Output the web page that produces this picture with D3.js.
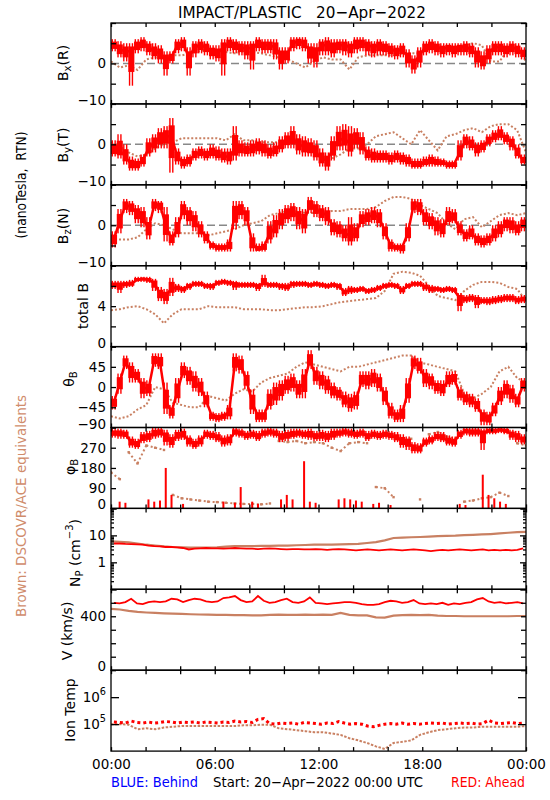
<!DOCTYPE html>
<html><head><meta charset="utf-8"><title>IMPACT/PLASTIC 20-Apr-2022</title>
<script src="https://cdn.jsdelivr.net/npm/d3@7/dist/d3.min.js"></script>
<style>
html,body{margin:0;padding:0;background:#fff;}
svg{display:block;}
text{font-family:"DejaVu Sans",Verdana,sans-serif;}
</style></head><body>
<svg id="chart" width="550" height="800"></svg>
<script>
// ================= DATA =================
const hourTicks = [0, 6, 12, 18, 24];
const hourLabels = ["00:00", "06:00", "12:00", "18:00", "00:00"];

// Bx (R), nT  — red: 20-min bins (mid / low / high), brown: 30-min samples
const bxRedMid = [4.5,3.5,3, 3,4.5,5, 4,3,2.5, 1,1.5,4.5, 5,1.5,4, 4.5,4,3, 2.5,4,5, 4.5,4,3.5, 4,5,4.5, 4.5,4,2, 2,5,5.5, 5,3,2.5, 4.5,4.5,4, 4.5,4.5,4, 5,5,4.5, 4,4.5,4, 3.5,3,3.5, 1.5,0,2, 4,4.5,4, 3.5,4,3.5, 4,4,3.5, 2,0.5,2.5, 4,4,3.5, 4,3.5,2.5];
const bxRedLo  = [3,1.5,0.5, -5.5,2.5,3, 2,1,0, -3,0,2.5, 3,-3,1.5, 2.5,2,1, 0.5,-3,3, 2.5,2,1, -1.5,3,2.5, 2.5,1,-1.5, 0,3,3.5, 3,0,-1, 2,2,1.5, 2.5,2,1.5, 2.5,3,2, 1.5,2,2, 1.5,1,1.5, -1,-2.5,-1, 2,2.5,2, 1.5,2,1.5, 2,2,1.5, -1,-1.5,0, 2,2,1.5, 2,1.5,1];
const bxRedHi  = [6,5.5,5, 5,6,6.5, 5.5,5,4.5, 3,3,6, 6.5,4,5.5, 6,5.5,4.5, 4.5,6,6.5, 6,5.5,5.5, 5.5,6.5,6, 6,6,4, 4,6.5,6.5, 6.5,5,5, 6,6.5,6, 6,6,5.5, 6.5,6.5,6, 5.5,6,5.5, 5,4.5,5, 3.5,2,4, 5.5,6,5.5, 5,5,5, 5,5.5,5, 4,3,4.5, 5.5,5.5,5, 5.5,5,4];
const bxBrown  = [0.5,-1,-0.5,-1.6,1,1.5,1.5,2, 2,2.5,3,3.5,3,2.8,2.5,3, 2.8,2.5,2,1.5,1,0,-1,0.5, 1.5,1,1,-1.5,1.5,2,2,2, 2,2.5,2.5,2.5,3.5,4,4,4, 4.5,5,4.5,0.5,0.5,3.5,4,0.5];

// By (T), nT
const byRedMid = [-1.5,-1.5,-3, -5,-5,-4, -1,0.5,1.5, 2,2,-3, -4.5,-4,-2.5, -2,-2.5,-2, -2.5,-3,-3, -1,-1,-1.5, -1,-0.5,-1, -2,-1.5,0, 1,1.5,0, -0.5,-1,-2, -3.5,-4,-1, 1,1.5,0, 1.5,0,-2.5, -3,-3,-3, -3.5,-3,-3.5, -4,-5,-5, -4.5,-4,-4.5, -4.5,-5,-5, -2,1,0, -1,-0.5,1, 2,2.5,1.5, 0.5,-2,-4];
const byRedLo  = [-3,-3.5,-5, -6.5,-6.5,-5.5, -3,-2,-1, -1,-7,-5, -6,-5.5,-4, -3.5,-4,-3.5, -4,-4.5,-5, -4,-3,-3, -3,-2.5,-3, -3.5,-3,-2, -1,-1,-2.5, -3,-3,-4, -5.5,-6.5,-4, -1.5,-1.5,-3, -1,-2.5,-4, -4.5,-4.5,-4.5, -5,-4.5,-5, -5.5,-6,-6, -5.5,-5.5,-5.5, -5.5,-6,-6, -4,-1,-1.5, -3,-2,-0.5, 0.5,1,0, -1.5,-3.5,-5];
const byRedHi  = [1,2.5,0, -3,-3.5,-2.5, 1.5,2.5,4, 4.5,6.5,-1, -3,-2.5,-1, -0.5,-1,0, -0.5,-1,-1, 4.5,1,0.5, 1,1.5,1, 0,0.5,2, 3,4.5,2.5, 2,1.5,1, -1,-2,2, 4.5,5,4.5, 4,3,-0.5, -1,-1.5,-1.5, -2,-1.5,-2, -2.5,-3.5,-3.5, -3,-2.5,-3, -3.5,-4,-4, 1,2.5,2, 0.5,1,2.5, 3.5,4.5,3, 2,0,-2.5];
const byBrown  = [0.5,-0.5,-2,-3,-2.5,-1,0,0.5, 1.5,1.5,1.5,1.5,1.5,1,2.5,1, 1,0.5,0.5,0.5,0.5,0,-1,-2, -3,-3.5,-2.5,-1,-1,0,2,2.5, 3,1.5,0,3.5,1,-1.5,2,2.5, 3.5,4,3,4.5,5,5,3.5,-2];

// Bz (N), nT
const bzRedMid = [-3.5,1,5, 4.5,3,2, -1,5,5, 0,-3.5,-1, 4,2.5,1, -1,-3,-5, -5.5,-5.5,-5, 3,4,2.5, -4.5,-6,-5.5, -2,-0.5,1.5, 3,3.5,2, 1,5,4, 3,2.5,-0.5, -1,-2,-2.5, -2,1.5,2, 2.5,2,-1.5, -5,-5.5,-5.5, -2,5,4.5, 2,1,0, -1,2,2, -1,-2.5,-2, -3.5,-4,-3.5, -2,-1,0.5, 0,-1,0.5];
const bzRedLo  = [-5.5,-2,3, 2.5,0.5,-0.5, -3.5,3.5,3, -4,-5,-3, 1.5,0,-1.5, -3,-4.5,-6, -6.5,-6.5,-6.5, -1,1.5,0, -6.5,-6.5,-6.5, -4.5,-3,-1, 0.5,1,-1, -2,3,2, 1,0,-2.5, -3,-4,-5, -4,-0.5,0, 0.5,-0.5,-3.5, -6.5,-6.5,-7, -4,3,2.5, 0,-1,-2.5, -3,0,0.5, -2.5,-4,-3.5, -5,-5.5,-5, -4,-3,-1.5, -2,-2.5,-1.5];
const bzRedHi  = [-1.5,4,6.5, 6,5,4.5, 2,6.5,6, 4.5,-1.5,2, 6,4.5,3.5, 1,-1.5,-4, -4.5,-4.5,-3.5, 6,6,4.5, -2,-4.5,-4, 1,2.5,4, 5,5.5,4.5, 4,7,6, 5,4.5,1.5, 1,0,2, 0.5,3.5,4, 4.5,4,0.5, -3.5,-4.5,-4.5, 0.5,6.5,6.5, 4,3,2, 1.5,4.5,4, 1,-1,0, -2,-2.5,-2, 0,1,2, 2,1,2];
const bzBrown  = [-3.5,-3.5,-3.5,-3,-1,0.5,0,-1, -2,-2,-2,-2.5,-2,-1.5,-1,0, 0.5,1,2.5,3,3.5,3.5,3,3, 3,3.5,3.5,4,4,4,4.5,6, 7,7,6.5,5,4,3,0.5,-1, 1.5,2,-0.5,1,2.5,3,2.5,3];

// total B, nT
const btRedMid = [6.1,6.1,6.2, 6.2,6.6,6.7, 6.6,6.3,5.2, 5.0,5.8,5.8, 5.7,6.0,6.2, 6.2,6.0,6.0, 6.3,6.4,6.3, 6.2,6.1,6.1, 6.1,6.0,6.3, 6.1,6.1,6.0, 5.9,6.2,6.2, 6.2,6.1,6.2, 6.1,6.0,6.1, 6.0,5.4,5.6, 5.6,5.7,5.5, 5.6,5.8,6.0, 6.1,6.0,5.6, 6.0,6.2,6.2, 5.9,5.7,5.7, 5.6,5.7,5.6, 4.8,4.7,4.8, 4.6,4.5,4.5, 4.6,4.7,4.8, 4.8,4.6,4.7];
const btRedLo  = [5.7,5.3,5.8, 5.9,6.4,6.4, 6.3,5.5,4.5, 4.2,5.0,5.4, 5.3,5.6,5.9, 5.9,5.7,5.6, 6.0,6.1,6.0, 5.6,5.8,5.8, 5.8,5.5,5.9, 5.8,5.8,5.6, 5.5,5.8,5.9, 5.9,5.8,5.9, 5.8,5.7,5.8, 5.6,5.0,5.2, 5.3,5.4,5.2, 5.3,5.5,5.7, 5.8,5.7,5.2, 5.7,5.9,5.9, 5.5,5.3,5.4, 5.3,5.4,5.3, 3.5,4.3,4.4, 3.8,4.2,4.1, 4.2,4.3,4.4, 4.4,4.2,4.3];
const btRedHi  = [6.5,6.5,6.5, 6.6,6.9,6.9, 6.9,6.7,5.9, 5.7,6.8,6.2, 6.0,6.3,6.5, 6.5,6.3,6.3, 6.6,6.7,6.6, 6.5,6.4,6.4, 6.4,6.3,7.1, 6.4,6.4,6.3, 6.3,6.5,6.5, 6.5,6.4,6.5, 6.4,6.3,6.4, 6.3,5.8,6.0, 5.9,6.0,5.8, 5.9,6.1,6.3, 6.4,6.3,6.0, 6.3,6.5,6.5, 6.3,6.1,6.0, 5.9,6.0,5.9, 5.3,5.1,5.2, 5.1,4.9,4.9, 5.0,5.1,5.2, 5.2,5.0,5.1];
const btBrown  = [3.6,3.7,3.9,4.0,3.7,3.2,2.3,3.2, 3.7,3.7,3.7,4.0,3.9,3.9,3.9,3.7, 3.7,3.7,3.6,3.6,3.7,3.8,3.9,3.9, 4.0,4.2,4.4,4.5,4.6,4.7,4.8,5.5, 7.2,7.4,7.3,7.0,6.0,5.0,4.8,4.6, 5.5,6.1,6.4,6.4,6.3,5.9,5.7,4.5];

// theta_B, degrees
const thRedMid = [-35,10,55, 35,25,0, -5,60,55, -30,-55,-10, 35,25,10, 0,-30,-65, -68,-65,-55, 55,50,15, -35,-65,-65, -30,-15,-5, 5,10,-5, 10,60,25, 15,5,-10, -15,-30,-35, -30,15,15, 20,10,-20, -55,-65,-60, -10,55,45, 20,15,0, -5,15,20, -15,-25,-30, -40,-65,-70, -50,-20,-5, -15,-30,5];
const thRedLo  = [-50,-15,40, 10,10,-25, -20,45,40, -60,-70,-35, 20,5,-10, -20,-45,-75, -78,-75,-72, 35,30,-5, -60,-78,-78, -50,-40,-30, -15,-10,-25, -25,40,5, -5,-15,-25, -30,-45,-55, -50,0,-5, 0,-10,-40, -70,-78,-78, -35,40,30, 0,-5,-15, -20,0,5, -30,-40,-45, -55,-85,-85, -65,-40,-25, -35,-45,-10];
const thRedHi  = [-20,30,70, 55,40,20, 15,75,75, 10,-40,20, 55,45,35, 20,-10,-55, -58,-55,-40, 75,70,35, -5,-50,-50, -5,10,15, 25,30,15, 40,82,45, 35,25,10, 0,-10,-15, -10,35,35, 40,30,0, -35,-50,-40, 20,70,65, 40,30,15, 15,35,35, 0,-10,-15, -25,-50,-55, -35,0,15, 5,-15,20];
const thBrown  = [-65,-70,-65,-50,-40,0,-5,-35, -40,-45,-45,-20,-25,-30,-15,-5, -10,10,20,25,30,45,55,50, 45,40,35,45,45,50,55,60, 65,70,70,55,50,45,40,35, -15,-25,-15,0,35,45,20,10];

// phi_B, degrees (main cluster near the top, wrapped points near 0)
const phRedMid = [335,335,330, 295,285,315, 320,335,340, 320,300,325, 330,300,285, 300,330,325, 315,300,305, 340,335,325, 330,320,335, 340,335,320, 325,330,335, 330,330,320, 325,320,330, 335,340,335, 330,335,320, 330,325,330, 325,315,300, 295,270,265, 295,305,320, 315,300,295, 330,345,340, 340,335,345, 345,350,345, 330,320,305];
const phRedLo  = [315,310,310, 270,265,290, 295,310,315, 280,270,300, 305,275,265, 275,310,305, 295,275,280, 320,315,305, 310,300,315, 320,315,295, 300,310,315, 310,305,300, 300,295,305, 315,320,315, 310,315,300, 310,305,310, 305,295,270, 260,245,245, 275,285,300, 295,280,275, 310,325,320, 320,260,330, 330,335,330, 305,295,285];
const phRedHi  = [355,355,350, 320,310,340, 345,360,360, 350,330,350, 355,325,310, 325,350,345, 340,325,330, 360,355,345, 350,345,355, 360,355,345, 350,355,355, 350,355,345, 350,345,355, 355,360,355, 350,355,345, 350,345,350, 345,340,330, 320,295,290, 315,325,340, 340,325,320, 350,360,360, 360,355,360, 360,360,360, 350,345,330];
const phRedWrap = [0,30,25, 0,0,0, 40,30,35, 180,60,0, 20,0,0, 0,0,0, 0,30,0, 25,95,0, 30,20,0, 0,0,40, 60,40,0, 210,30,25, 0,0,0, 40,45,40, 35,30,0, 20,25,0, 15,0,0, 0,0,0, 0,0,0, 0,0,0, 20,15,0, 0,150,60, 45,30,20, 0,0,0];
const phBrown  = [160,130,250,200,280,270,260,60, 45,40,35,30,28,25,22,20, 20,18,22,300,295,300,290,295, 290,270,255,290,295,290,95,90, 50,300,310,40,330,340,320,310, 30,35,45,50,70,55,290,280];

// Np, cm^-3
const npRed   = [5.0,5.0,4.8, 4.7,4.6,4.5, 4.2,4.0,3.9, 3.7,3.7,3.6, 3.4,3.0,3.2, 3.3,3.4,3.3, 3.3,3.2,3.3, 3.4,3.3,3.2, 3.2,3.1,3.2, 3.3,3.2,3.1, 3.0,3.1,3.1, 3.0,3.0,3.1, 3.0,2.9,3.0, 3.1,3.0,2.9, 2.8,2.9,3.0, 2.9,2.8,2.9, 3.0,2.9,2.8, 2.9,3.0,2.9, 2.8,2.6,2.8, 2.9,2.8,2.9, 3.0,2.9,2.8, 2.9,3.0,2.8, 2.9,2.8,2.9, 2.8,2.9,3.3];
const npBrown = [6.0,5.8,5.5,5.0,4.5,4.2,3.9,3.7, 3.6,3.5,3.5,3.5,3.6,3.8,4.0,4.0, 4.0,4.1,4.1,4.2,4.2,4.3,4.4,4.5, 4.5,4.5,4.6,4.7,4.8,5.2,5.6,6.5, 8.0,8.3,8.5,8.7,9.0,9.4,9.6,9.8, 10.2,10.5,10.8,11.2,11.8,12.5,13.2,13.5];

// V, km/s
const vRed   = [500,495,505,530,495,490,505,510,505,510, 530,525,505,520,530,525,510,505,510,535, 540,550,520,505,510,550,515,500,505,520, 530,505,500,510,540,500,495,490,495,500, 505,505,500,490,485,485,490,505,515,510, 500,505,520,495,490,495,490,500,485,495, 490,500,505,525,535,510,500,505,495,500, 505,495];
const vBrown = [455,450,440,432,428,425,422,420, 418,415,413,412,410,410,408,408, 407,407,410,412,410,410,412,410, 412,410,425,410,407,407,392,390, 405,408,410,408,410,405,402,402, 400,400,400,400,400,400,402,402];

// Ion temperature, units of 1e5 K
const tRed   = [1.2,1.15,1.1,1.3,1.15,1.1,1.2,1.1,1.15,1.25, 1.2,1.1,1.2,1.15,1.2,1.1,1.2,1.15,1.1,1.2, 1.15,1.3,1.2,1.25,1.15,1.5,1.6,1.05,1.0,1.1, 1.05,1.1,1.0,1.15,1.1,1.05,1.0,1.1,1.05,1.25, 1.1,1.0,1.05,1.0,0.85,0.8,0.9,1.0,1.05,1.0, 1.1,1.0,1.05,1.0,1.05,1.1,1.05,1.1,1.0,1.05, 1.1,1.05,1.1,1.0,1.05,1.4,1.1,1.05,1.1,1.15, 1.05,1.1];
const tBrown = [1.0,1.0,0.95,0.65,0.7,0.65,0.75,0.8, 0.85,0.85,0.85,0.85,0.85,0.85,0.85,0.9, 0.9,0.95,0.95,0.7,0.65,0.6,0.55,0.5, 0.5,0.45,0.4,0.3,0.25,0.2,0.15,0.12, 0.2,0.22,0.25,0.4,0.5,0.6,0.65,0.7, 0.75,0.75,0.8,0.8,0.8,0.8,0.8,0.85];

// ================= LAYOUT / STYLE =================
const L = 111, R = 526, TOP = 23, PH = 80.9;
const RED = "#ff0000", BROWN = "#c98062", LABEL_BROWN = "#d08c6c";
const svg = d3.select("#chart");
svg.append("rect").attr("width", 550).attr("height", 800).attr("fill", "#fff");
const x = d3.scaleLinear().domain([0, 24]).range([L, R]);
const tCenter = (i, n) => (i + 0.5) * 24 / n;
const tSample = (i, n) => i * 24 / (n - 1);

const MINUS = "\u2212";
const panels = [
  {kind:"mag", domain:[-10,10], ticks:[-10,-5,0,5,10], labels:[[0,"0"],[-10,MINUS+"10"]], zero:true,
   mid:bxRedMid, lo:bxRedLo, hi:bxRedHi, brown:bxBrown, lab:[["B"],["x","sub"],["(R)"]], lx:63, ly:63},
  {kind:"mag", domain:[-10,10], ticks:[-10,-5,0,5,10], labels:[[0,"0"],[-10,MINUS+"10"]], zero:true,
   mid:byRedMid, lo:byRedLo, hi:byRedHi, brown:byBrown, lab:[["B"],["y","sub"],["(T)"]], lx:63, ly:145},
  {kind:"mag", domain:[-10,10], ticks:[-10,-5,0,5,10], labels:[[0,"0"],[-10,MINUS+"10"]], zero:true,
   mid:bzRedMid, lo:bzRedLo, hi:bzRedHi, brown:bzBrown, lab:[["B"],["z","sub"],["(N)"]], lx:63, ly:226},
  {kind:"mag", domain:[0,8], ticks:[0,2,4,6,8], labels:[[4,"4"],[0,"0"]],
   mid:btRedMid, lo:btRedLo, hi:btRedHi, brown:btBrown, lab:[["total B"]], lx:83, ly:306},
  {kind:"mag", domain:[-90,90], ticks:[-90,-45,0,45,90], labels:[[45,"45"],[0,"0"],[-45,MINUS+"45"],[-90,MINUS+"90"]],
   mid:thRedMid, lo:thRedLo, hi:thRedHi, brown:thBrown, lab:[["\u03b8"],["B","sub"]], lx:69, ly:379},
  {kind:"phi", domain:[0,360], ticks:[0,90,180,270,360], labels:[[270,"270"],[180,"180"],[90,"90"],[0,"0"]],
   mid:phRedMid, lo:phRedLo, hi:phRedHi, wrap:phRedWrap, brown:phBrown, lab:[["\u03c6"],["B","sub"]], lx:70, ly:467},
  {kind:"np", log:true, domain:[0.1,100], labels:[[10,"10"],[1,"1"]],
   red:npRed, brown:npBrown, lab:[["N"],["P","sub"],[" (cm"],["\u22123","sup"],[")"]], lx:75, ly:553},
  {kind:"v", domain:[0,600], ticks:[0,100,200,300,400,500,600], labels:[[400,"400"],[0,"0"]],
   red:vRed, brown:vBrown, lab:[["V (km/s)"]], lx:67, ly:631},
  {kind:"t", log:true, domain:[1e4,1e7], ticks:[1e5,1e6], labels:[[1e6,["10","6"]],[1e5,["10","5"]]], scale:1e5,
   red:tRed, brown:tBrown, lab:[["Ion Temp"]], lx:70, ly:710}
];

function addRichText(sel, parts, size) {
  let shift = 0;
  parts.forEach(([t, mode]) => {
    const ts = sel.append("tspan").text(t);
    let target = 0;
    if (mode === "sub") { ts.attr("font-size", size * 0.72); target = 4; }
    else if (mode === "sup") { ts.attr("font-size", size * 0.72); target = -6; }
    ts.attr("dy", target - shift);
    shift = target;
  });
}

panels.forEach((p, i) => {
  const top = TOP + i * PH, bot = top + PH;
  const y = (p.log ? d3.scaleLog() : d3.scaleLinear()).domain(p.domain).range([bot, top]);
  const cid = "clip" + i;
  svg.append("clipPath").attr("id", cid).append("rect")
    .attr("x", L).attr("y", top).attr("width", R - L).attr("height", PH);
  const g = svg.append("g").attr("clip-path", `url(#${cid})`);

  if (p.zero) {
    g.append("line").attr("x1", L).attr("x2", R).attr("y1", y(0)).attr("y2", y(0))
      .attr("stroke", "#888").attr("stroke-width", 1.5).attr("stroke-dasharray", "8,4");
  }

  if (p.kind === "mag" || p.kind === "phi") {
    // brown (DSCOVR/ACE)
    const nb = p.brown.length;
    if (p.kind === "phi") {
      const segs = [];
      for (let k = 0; k < nb - 1; k++) if (Math.abs(p.brown[k + 1] - p.brown[k]) < 120) segs.push(k);
      g.append("g").selectAll("line").data(segs).join("line")
        .attr("x1", k => x(tSample(k, nb))).attr("x2", k => x(tSample(k + 1, nb)))
        .attr("y1", k => y(p.brown[k])).attr("y2", k => y(p.brown[k + 1]))
        .attr("stroke", BROWN).attr("stroke-width", 2).attr("stroke-dasharray", "2,2.5");
      g.append("g").selectAll("rect").data(p.brown).join("rect")
        .attr("x", (d, k) => x(tSample(k, nb)) - 1.2).attr("y", d => y(d) - 1.2)
        .attr("width", 2.4).attr("height", 2.4).attr("fill", BROWN);
    } else {
      g.append("path").datum(p.brown).attr("fill", "none").attr("stroke", BROWN)
        .attr("stroke-width", 2).attr("stroke-dasharray", "2,2")
        .attr("d", d3.line().x((d, k) => x(tSample(k, nb))).y(d => y(d)));
    }
    // red (STEREO Ahead): thin scatter spikes over the full range + dense core
    const n = p.mid.length, bw = (R - L) / n;
    const CORE = 0.6;
    const rg = g.append("g").attr("fill", RED);
    [-0.28, 0.22].forEach(off => {
      rg.append("g").selectAll("rect").data(d3.range(n)).join("rect")
        .attr("x", k => x(tCenter(k, n)) + off * bw - 0.7).attr("width", 1.4)
        .attr("y", k => y(p.hi[k])).attr("height", k => Math.max(1.5, y(p.lo[k]) - y(p.hi[k])));
    });
    rg.append("g").selectAll("rect").data(d3.range(n)).join("rect")
      .attr("x", k => x(tCenter(k, n)) - bw * 0.5).attr("width", bw + 0.3)
      .attr("y", k => y(p.mid[k] + CORE * (p.hi[k] - p.mid[k])))
      .attr("height", k => Math.max(3, y(p.mid[k] - CORE * (p.mid[k] - p.lo[k])) - y(p.mid[k] + CORE * (p.hi[k] - p.mid[k]))));
    g.append("path").datum(d3.range(n)).attr("fill", "none").attr("stroke", RED).attr("stroke-width", 2.5)
      .attr("d", d3.line().x(k => x(tCenter(k, n))).y(k => y(p.mid[k])));
    if (p.wrap) {
      g.append("g").selectAll("rect").data(d3.range(n).filter(k => p.wrap[k] > 0)).join("rect")
        .attr("x", k => x(tCenter(k, n)) - 1).attr("width", 2)
        .attr("y", k => y(p.wrap[k])).attr("height", k => y(0) - y(p.wrap[k]))
        .attr("fill", RED);
    }
  } else {
    const sc = p.scale || 1;
    const nb = p.brown.length, nr = p.red.length;
    const bLine = d3.line().x((d, k) => x(tSample(k, nb))).y(d => y(d * sc));
    const rLine = d3.line().x((d, k) => x(tCenter(k, nr))).y(d => y(d * sc));
    const bp = g.append("path").datum(p.brown).attr("fill", "none").attr("stroke", BROWN).attr("d", bLine);
    const rp = g.append("path").datum(p.red).attr("fill", "none").attr("stroke", RED).attr("d", rLine);
    if (p.kind === "t") {
      bp.attr("stroke-width", 2).attr("stroke-dasharray", "2.5,1.5");
      rp.attr("stroke-width", 3).attr("stroke-dasharray", "3,3");
    } else {
      bp.attr("stroke-width", 2.2);
      rp.attr("stroke-width", 1.8);
    }
  }

  // frame
  svg.append("rect").attr("x", L).attr("y", top).attr("width", R - L).attr("height", PH)
    .attr("fill", "none").attr("stroke", "#000").attr("stroke-width", 1.3);

  // time ticks (inward) on top and bottom edges
  const xt = d3.range(0, 25, 2);
  [ [d3.axisTop(x), top], [d3.axisBottom(x), bot] ].forEach(([ax, yy]) => {
    const a = svg.append("g").attr("transform", `translate(0,${yy})`)
      .call(ax.tickValues(xt).tickSize(-4).tickFormat(""));
    a.select(".domain").remove();
    a.selectAll("line").attr("stroke", "#000").attr("stroke-width", 1.3);
  });

  // value ticks (inward) on left and right edges
  const addYTicks = (vals, len) => {
    [[d3.axisLeft(y), L], [d3.axisRight(y), R]].forEach(([ax, xx]) => {
      const a = svg.append("g").attr("transform", `translate(${xx},0)`)
        .call(ax.tickValues(vals).tickSize(-len).tickFormat(""));
      a.select(".domain").remove();
      a.selectAll("line").attr("stroke", "#000").attr("stroke-width", 1.3);
    });
  };
  if (p.kind === "np") {
    addYTicks([0.1, 1, 10, 100], 6);
    const minor = [];
    [0.1, 1, 10].forEach(dd => { for (let m = 2; m <= 9; m++) minor.push(dd * m); });
    addYTicks(minor, 3);
  } else if (p.kind === "t") {
    addYTicks(p.ticks, 8);
  } else {
    addYTicks(p.ticks, 5);
  }

  // tick labels
  p.labels.forEach(([v, lab]) => {
    const atBottom = v === p.domain[0];
    const t = svg.append("text").attr("x", 106).attr("y", y(v) + (atBottom ? -4 : 0))
      .attr("text-anchor", "end").attr("dominant-baseline", "central")
      .attr("font-size", 13.5).attr("fill", "#000");
    if (Array.isArray(lab)) addRichText(t, [[lab[0]], [lab[1], "sup"]], 13.5);
    else t.text(lab);
  });

  // panel title (rotated)
  const tt = svg.append("text").attr("transform", `translate(${p.lx},${p.ly}) rotate(-90)`)
    .attr("text-anchor", "middle").attr("dominant-baseline", "central")
    .attr("font-size", 14).attr("fill", "#000");
  addRichText(tt, p.lab, 14);
});

// time axis labels under the last panel
const bottomY = TOP + 9 * PH;
const xa = svg.append("g").attr("transform", `translate(0,${bottomY})`)
  .call(d3.axisBottom(x).tickValues(hourTicks).tickSize(0).tickPadding(8)
    .tickFormat((d, k) => hourLabels[k]));
xa.select(".domain").remove();
xa.selectAll("text").attr("font-size", 13.5).attr("fill", "#000")
  .attr("font-family", "DejaVu Sans, sans-serif");

// title
svg.append("text").attr("x", 302).attr("y", 18).attr("text-anchor", "middle")
  .attr("font-size", 16.5).attr("fill", "#000").attr("xml:space", "preserve")
  .attr("textLength", 248).attr("lengthAdjust", "spacingAndGlyphs")
  .text("IMPACT/PLASTIC\u00a0\u00a0\u00a020\u2212Apr\u22122022");

// left side notes
svg.append("text").attr("transform", "translate(21,185) rotate(-90)")
  .attr("text-anchor", "middle").attr("dominant-baseline", "central")
  .attr("font-size", 14).attr("fill", "#000")
  .attr("textLength", 107).attr("lengthAdjust", "spacingAndGlyphs")
  .text("(nanoTesla,\u00a0\u00a0RTN)");
svg.append("text").attr("transform", "translate(21,506) rotate(-90)")
  .attr("text-anchor", "middle").attr("dominant-baseline", "central")
  .attr("font-size", 14).attr("fill", LABEL_BROWN)
  .attr("textLength", 222).attr("lengthAdjust", "spacingAndGlyphs")
  .text("Brown: DSCOVR/ACE equivalents");

// footer
svg.append("text").attr("x", 111).attr("y", 787).attr("font-size", 14).attr("fill", "#0000ff")
  .attr("textLength", 87).attr("lengthAdjust", "spacingAndGlyphs").text("BLUE: Behind");
svg.append("text").attr("x", 213).attr("y", 787).attr("font-size", 14).attr("fill", "#000")
  .attr("textLength", 210).attr("lengthAdjust", "spacingAndGlyphs").text("Start: 20\u2212Apr\u22122022 00:00 UTC");
svg.append("text").attr("x", 451).attr("y", 787).attr("font-size", 14).attr("fill", "#ff0000")
  .attr("textLength", 74).attr("lengthAdjust", "spacingAndGlyphs").text("RED: Ahead");
</script></body></html>
